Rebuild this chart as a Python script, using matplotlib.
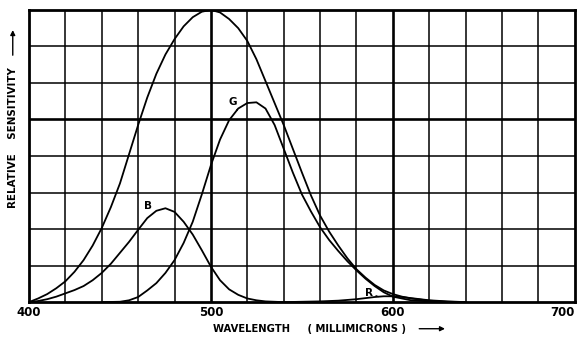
import numpy as np
import matplotlib.pyplot as plt

# wavelength (nm) and relative sensitivity, one grid row = 1
wl_total = [400, 405, 410, 415, 420, 425, 430, 435, 440, 445, 450, 455, 460, 465,
            470, 475, 480, 485, 490, 495, 500, 505, 510, 515, 520, 525, 530, 535,
            540, 545, 550, 555, 560, 565, 570, 575, 580, 585, 590, 595, 600, 605,
            610, 620, 630, 640]
total = [0.0, 0.1, 0.22, 0.38, 0.57, 0.83, 1.15, 1.55, 2.03, 2.6, 3.25, 4.05, 4.85, 5.6,
         6.25, 6.78, 7.2, 7.55, 7.8, 7.95, 8.0, 7.93, 7.75, 7.5, 7.15, 6.65, 6.05, 5.45,
         4.85, 4.2, 3.55, 2.92, 2.37, 1.93, 1.55, 1.2, 0.9, 0.67, 0.47, 0.32, 0.22, 0.15,
         0.1, 0.04, 0.01, 0.0]

wl_blue = [400, 405, 410, 415, 420, 425, 430, 435, 440, 445, 450, 455, 460, 465,
           470, 475, 480, 485, 490, 495, 500, 505, 510, 515, 520, 525, 530, 535, 540]
blue = [0.0, 0.03, 0.08, 0.15, 0.24, 0.33, 0.44, 0.6, 0.8, 1.05, 1.35, 1.65, 1.98, 2.3,
        2.5, 2.57, 2.47, 2.2, 1.85, 1.42, 0.97, 0.6, 0.35, 0.2, 0.1, 0.05, 0.02, 0.01, 0.0]

wl_green = [440, 450, 455, 460, 465, 470, 475, 480, 485, 490, 495, 500, 505, 510,
            515, 520, 525, 530, 535, 540, 545, 550, 555, 560, 565, 570, 575, 580,
            585, 590, 595, 600, 610, 620, 630]
green = [0.0, 0.01, 0.05, 0.14, 0.32, 0.52, 0.8, 1.15, 1.62, 2.2, 2.95, 3.75, 4.45, 4.98,
         5.3, 5.45, 5.47, 5.3, 4.85, 4.2, 3.55, 2.95, 2.48, 2.05, 1.7, 1.4, 1.12, 0.87,
         0.64, 0.44, 0.27, 0.15, 0.05, 0.02, 0.0]

wl_red = [540, 550, 560, 570, 580, 585, 590, 595, 600, 605, 610, 620, 630, 640]
red = [0.0, 0.01, 0.02, 0.04, 0.08, 0.11, 0.14, 0.16, 0.16, 0.14, 0.11, 0.05, 0.02, 0.0]

xtick_vals = [400, 500, 600, 700]

plt.rcParams['font.family'] = 'DejaVu Sans'
plt.rcParams['font.weight'] = 'bold'

fig = plt.figure(figsize=(5.8, 3.41), dpi=100)
ax = fig.add_axes([0.05, 0.114, 0.941, 0.857])
ax.set_xlim(400, 700)
ax.set_ylim(0, 8)

for x in range(420, 700, 20):
    lw = 1.9 if x in (500, 600) else 1.1
    ax.axvline(x, color='black', lw=lw, zorder=1)
for y in range(1, 8):
    lw = 1.9 if y == 5 else 1.1
    ax.axhline(y, color='black', lw=lw, zorder=1)

for xs, ys in [(wl_total, total), (wl_blue, blue), (wl_green, green), (wl_red, red)]:
    ax.plot(xs, ys, color='black', lw=1.3, solid_joinstyle='round', zorder=3)

ax.annotate('B', xy=(468, 2.42), xytext=(465.5, 2.5), fontsize=7.5, ha='center',
            va='bottom', arrowprops=dict(arrowstyle='-', lw=0.8, shrinkA=0, shrinkB=0))
ax.annotate('G', xy=(514.5, 5.25), xytext=(512, 5.35), fontsize=7.5, ha='center',
            va='bottom', arrowprops=dict(arrowstyle='-', lw=0.8, shrinkA=0, shrinkB=0))
ax.annotate('R', xy=(592, 0.15), xytext=(587, 0.12), fontsize=7.5, ha='center',
            va='bottom', arrowprops=dict(arrowstyle='-', lw=0.8, shrinkA=0, shrinkB=0))

for s in ax.spines.values():
    s.set_linewidth(2)
ax.set_xticks(xtick_vals)
labels = ax.set_xticklabels([str(v) for v in xtick_vals], fontsize=8.5, fontweight='bold')
labels[-1].set_ha('right')
ax.tick_params(axis='x', length=0, pad=3)
ax.set_yticks([])

fig.text(0.533, 0.02, 'WAVELENGTH     ( MILLIMICRONS )', fontsize=7.2, ha='center',
         va='bottom', fontweight='bold')
ax.annotate('', xy=(0.772, 0.036), xytext=(0.718, 0.036), xycoords='figure fraction',
            arrowprops=dict(arrowstyle='-|>', lw=1, color='black', mutation_scale=7))

fig.text(0.022, 0.598, 'RELATIVE    SENSITIVITY', fontsize=7.4, rotation=90, ha='center',
         va='center', fontweight='bold')
ax.annotate('', xy=(0.022, 0.92), xytext=(0.022, 0.83), xycoords='figure fraction',
            arrowprops=dict(arrowstyle='-|>', lw=1, color='black', mutation_scale=7))

fig.savefig('out.png', dpi=100)
